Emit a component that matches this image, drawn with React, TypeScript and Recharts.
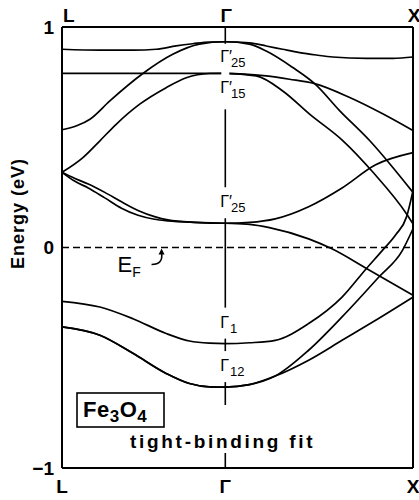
import { LineChart, Line, XAxis, YAxis, ReferenceLine, ReferenceDot } from "recharts";

type Pt = [number, number];

const FONT = "'Liberation Sans', Arial, Helvetica, sans-serif";

// k along L - Γ - X (units of 2π/a)
const K_L = 0;
const K_GAMMA = 0.87;
const K_X = 1.87;

const kTicks = [K_L, K_GAMMA, K_X];
const kTickLabels = ["L", "Γ", "X"];
const energyTicks = [-1, 0, 1];
const fermiEnergy = 0;

// L -> Γ branches [k, E (eV)]
const lgFlatTop: Pt[] = [[0, 0.899], [0.202, 0.895], [0.378, 0.895], [0.502, 0.899], [0.608, 0.914], [0.697, 0.924], [0.785, 0.932], [0.87, 0.933]];
const lgRiseTo25: Pt[] = [[0, 0.534], [0.078, 0.552], [0.149, 0.582], [0.255, 0.665], [0.431, 0.789], [0.59, 0.876], [0.732, 0.922], [0.87, 0.933]];
const lgFlat15: Pt[] = [[0, 0.79], [0.435, 0.79], [0.87, 0.79]];
const lgRiseTo15: Pt[] = [[0, 0.341], [0.113, 0.409], [0.202, 0.484], [0.29, 0.56], [0.414, 0.65], [0.555, 0.725], [0.662, 0.77], [0.785, 0.789], [0.87, 0.79]];
const lgPairUpper: Pt[] = [[0, 0.341], [0.069, 0.313], [0.14, 0.288], [0.228, 0.25], [0.317, 0.207], [0.405, 0.168], [0.493, 0.14], [0.564, 0.125], [0.706, 0.114], [0.87, 0.11]];
const lgPairLower: Pt[] = [[0, 0.341], [0.069, 0.3], [0.14, 0.27], [0.228, 0.225], [0.317, 0.178], [0.405, 0.146], [0.493, 0.128], [0.564, 0.121], [0.706, 0.114], [0.87, 0.11]];
const lgToGamma1: Pt[] = [[0, -0.244], [0.202, -0.27], [0.378, -0.323], [0.555, -0.39], [0.679, -0.424], [0.785, -0.434], [0.87, -0.436]];
const lgToGamma12: Pt[] = [[0, -0.36], [0.202, -0.398], [0.378, -0.48], [0.555, -0.571], [0.679, -0.617], [0.785, -0.632], [0.87, -0.633]];

// Γ -> X branches
const gxGentleTop: Pt[] = [[0.998, 0.928], [1.088, 0.914], [1.175, 0.899], [1.266, 0.884], [1.355, 0.873], [1.442, 0.864], [1.622, 0.858], [1.763, 0.858], [1.87, 0.864]];
const gxSteepFrom25: Pt[] = [[0.998, 0.922], [1.088, 0.891], [1.23, 0.816], [1.346, 0.743], [1.48, 0.62], [1.64, 0.484], [1.747, 0.379], [1.87, 0.25]];
const gxGentleFrom15: Pt[] = [[1.088, 0.778], [1.212, 0.763], [1.346, 0.743], [1.533, 0.68], [1.711, 0.605], [1.87, 0.53]];
const gxSteepFrom15: Pt[] = [[1.034, 0.778], [1.176, 0.71], [1.319, 0.605], [1.497, 0.484], [1.657, 0.341], [1.836, 0.152], [1.87, 0.107]];
const gxRiseFromLow25: Pt[] = [[1.0, 0.114], [1.136, 0.13], [1.314, 0.185], [1.492, 0.27], [1.671, 0.375], [1.87, 0.43]];
const gxFallFromLow25: Pt[] = [[1.0, 0.105], [1.105, 0.09], [1.314, 0.039], [1.438, -0.006], [1.622, -0.095], [1.87, -0.217]];
const gxRiseFromGamma1: Pt[] = [[1.0, -0.432], [1.136, -0.421], [1.314, -0.345], [1.492, -0.225], [1.622, -0.095], [1.706, -0.014], [1.78, 0.06], [1.836, 0.14], [1.87, 0.258]];
const gxSteepFrom12: Pt[] = [[0.998, -0.622], [1.136, -0.583], [1.314, -0.466], [1.492, -0.315], [1.688, -0.134], [1.813, -0.014], [1.87, 0.085]];
const gxGentleFrom12: Pt[] = [[0.998, -0.622], [1.136, -0.583], [1.314, -0.511], [1.492, -0.421], [1.671, -0.33], [1.87, -0.225]];

const bands: Pt[][] = [
  [...lgFlatTop, ...gxGentleTop],
  [...lgRiseTo25, ...gxSteepFrom25],
  [...lgFlat15, ...gxGentleFrom15],
  [...lgRiseTo15, ...gxSteepFrom15],
  [...lgPairUpper, ...gxRiseFromLow25],
  [...lgPairLower, ...gxFallFromLow25],
  [...lgToGamma1, ...gxRiseFromGamma1],
  [...lgToGamma12, ...gxSteepFrom12],
  [...lgToGamma12, ...gxGentleFrom12],
];

// symmetry points at Γ
const gammaPoints = [
  { e: 0.933, sub: "25", prime: true, below: true },
  { e: 0.79, sub: "15", prime: true, below: true },
  { e: 0.11, sub: "25", prime: true, below: false },
  { e: -0.436, sub: "1", prime: false, below: false },
  { e: -0.633, sub: "12", prime: false, below: false },
];

const tickStyle = { fill: "#000", fontSize: 19, fontWeight: 700, fontFamily: FONT };

function TopTick({ x, y, payload, index }: any) {
  // the top "L" sits just right of the left frame
  const first = index === 0;
  return (
    <text
      x={first ? x + 1 : x + 1}
      y={y}
      textAnchor={first ? "start" : "middle"}
      {...tickStyle}
    >
      {kTickLabels[kTicks.indexOf(payload.value)] ?? ""}
    </text>
  );
}

function GammaLabel({ viewBox, sub, prime, below }: any) {
  const { x, y } = viewBox;
  const gapTop = below ? y + 2 : y - 36;
  const gapH = below ? 34 : 31;
  const base = below ? y + 20 : y - 16;
  return (
    <g>
      <rect x={x - 4} y={gapTop} width={8} height={gapH} fill="#fff" />
      <text x={x - 5} y={base} fontSize={16} fontFamily={FONT} fill="#000">
        {prime ? "Γ′" : "Γ"}
        <tspan dx={prime ? -1 : 1} dy={5} fontSize={13}>
          {sub}
        </tspan>
      </text>
    </g>
  );
}

function FermiLabel({ viewBox }: any) {
  const { x, y } = viewBox;
  return (
    <g>
      <text x={x - 43} y={y + 24} fontSize={22} fontFamily={FONT} fill="#000">
        E
        <tspan dy={5} fontSize={14}>
          F
        </tspan>
      </text>
      <path
        d={`M ${x - 9} ${y + 17} Q ${x + 3} ${y + 17} ${x + 1} ${y + 5}`}
        stroke="#000"
        strokeWidth={1.6}
        fill="none"
      />
      <path d={`M ${x + 1} ${y + 1} L ${x - 2} ${y + 7} L ${x + 4} ${y + 7} Z`} fill="#000" />
    </g>
  );
}

function TitleBlock({ viewBox }: any) {
  const { x, y } = viewBox;
  return (
    <g fontFamily={FONT} fill="#000">
      <rect x={x + 66} y={y - 63} width={190} height={48} fill="#fff" />
      <rect x={x + 15} y={y - 75} width={87} height={34} fill="#fff" stroke="#000" strokeWidth={1.6} />
      <text x={x + 21} y={y - 51} fontSize={22} fontWeight={700} letterSpacing={0.5}>
        Fe
        <tspan dy={5} fontSize={17}>
          3
        </tspan>
        <tspan dy={-5}>O</tspan>
        <tspan dy={5} fontSize={17}>
          4
        </tspan>
      </text>
      <text x={x + 68} y={y - 20} fontSize={19} fontWeight={700} letterSpacing={2.7}>
        tight-binding fit
      </text>
    </g>
  );
}

function EnergyLabel({ viewBox }: any) {
  const cx = viewBox.x + 18;
  const cy = viewBox.y + viewBox.height / 2 - 34;
  return (
    <text
      x={cx}
      y={cy}
      transform={`rotate(-90, ${cx}, ${cy})`}
      textAnchor="middle"
      dominantBaseline="central"
      fontSize={18}
      fontWeight={700}
      letterSpacing={1}
      fontFamily={FONT}
      fill="#000"
    >
      Energy (eV)
    </text>
  );
}

const kLabel = (v: number) => kTickLabels[kTicks.indexOf(v)] ?? "";
const eLabel = (v: number) => (v < 0 ? `\u2212${-v}` : `${v}`);

export default function App() {
  return (
    <div style={{ position: "absolute", left: 0, top: 0, background: "#fff" }}>
      <LineChart width={419} height={500} margin={{ top: 0, right: 6, bottom: 0, left: 0 }}>
        <XAxis
          dataKey="k"
          type="number"
          domain={[K_L, K_X]}
          ticks={kTicks}
          interval={0}
          tickFormatter={kLabel}
          axisLine={{ stroke: "#000", strokeWidth: 2 }}
          tickLine={false}
          tickSize={6}
          tickMargin={6}
          height={32}
          tick={tickStyle}
        />
        <XAxis
          xAxisId="top"
          orientation="top"
          dataKey="k"
          type="number"
          domain={[K_L, K_X]}
          ticks={kTicks}
          interval={0}
          axisLine={{ stroke: "#000", strokeWidth: 2 }}
          tickLine={false}
          tickSize={4}
          tickMargin={1}
          height={27}
          tick={(p: any) => <TopTick {...p} />}
        />
        <YAxis
          type="number"
          domain={[-1, 1]}
          ticks={energyTicks}
          interval={0}
          tickFormatter={eLabel}
          axisLine={{ stroke: "#000", strokeWidth: 2 }}
          tickLine={false}
          tickSize={6}
          tickMargin={2}
          width={62}
          tick={tickStyle}
          label={{ content: (p: any) => <EnergyLabel {...p} /> }}
        />
        <ReferenceLine x={K_X} stroke="#000" strokeWidth={2} />
        <ReferenceLine x={K_GAMMA} stroke="#000" strokeWidth={1.6} />
        <ReferenceLine y={fermiEnergy} stroke="#000" strokeWidth={1.5} strokeDasharray="7 4" />
        {/* carries the top k axis (the Fermi level, drawn by the dashed reference line) */}
        <Line
          xAxisId="top"
          data={kTicks.map((k) => ({ k, e: fermiEnergy }))}
          dataKey="e"
          stroke="none"
          dot={false}
          activeDot={false}
          isAnimationActive={false}
        />
        {bands.map((b, i) => (
          <Line
            key={i}
            data={b.map(([k, e]) => ({ k, e }))}
            dataKey="e"
            type="monotone"
            stroke="#000"
            strokeWidth={1.7}
            dot={false}
            activeDot={false}
            isAnimationActive={false}
          />
        ))}
        {gammaPoints.map((g, i) => (
          <ReferenceDot
            key={`g${i}`}
            x={K_GAMMA}
            y={g.e}
            r={0}
            fill="none"
            stroke="none"
            label={(p: any) => <GammaLabel {...p} sub={g.sub} prime={g.prime} below={g.below} />}
          />
        ))}
        <ReferenceDot
          x={0.525}
          y={fermiEnergy}
          r={0}
          fill="none"
          stroke="none"
          label={(p: any) => <FermiLabel {...p} />}
        />
        <ReferenceDot
          x={K_L}
          y={-1}
          r={0}
          fill="none"
          stroke="none"
          label={(p: any) => <TitleBlock {...p} />}
        />
      </LineChart>
    </div>
  );
}
